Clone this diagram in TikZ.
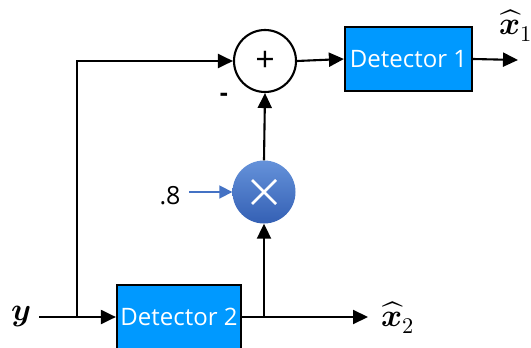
\documentclass[tikz,border=0pt]{standalone}
\usepackage{fontspec}
\usepackage{unicode-math}
\setmainfont{Open Sans}
\setmathfont{Latin Modern Math}
\usetikzlibrary{arrows.meta}
\definecolor{detblue}{HTML}{0099FF}
\definecolor{multop}{HTML}{6592DA}
\definecolor{mulbot}{HTML}{3460B4}
\definecolor{gainblue}{HTML}{4472C4}
\tikzset{
  wire/.style={line width=2.1pt, -{Triangle[length=15pt,width=14pt]}},
  detbox/.style={draw=black, line width=2.2pt, fill=detblue, text=white,
    font=\fontsize{24}{26}\selectfont, inner sep=0pt},
  sumc/.style={circle, draw=black, line width=2.1pt, fill=white, minimum size=62pt,
    inner sep=0pt, font=\fontsize{34}{36}\selectfont},
  mulc/.style={circle, top color=multop, bottom color=mulbot, minimum size=63pt, inner sep=0pt},
  lbl/.style={font=\fontsize{25}{27}\selectfont, inner sep=0pt},
  mlbl/.style={font=\fontsize{32}{34}\selectfont, inner sep=0pt},
}
\begin{document}
\begin{tikzpicture}[x=1pt,y=-1pt]
\clip (0,0) rectangle (531,348);
\fill[white] (0,0) rectangle (531,348);
% nodes
\node[sumc] (sum) at (265,61) {+};
\node[detbox, minimum width=127pt, minimum height=64pt] (d1) at (408.5,59) {Detector 1};
\node[detbox, minimum width=124pt, minimum height=64pt] (d2) at (179,317) {Detector 2};
\node[mulc] (mul) at (264,192) {};
\draw[white, line width=2.6pt] ([shift={(-12pt,-12pt)}]mul.center) -- ([shift={(12pt,12pt)}]mul.center)
  ([shift={(-12pt,12pt)}]mul.center) -- ([shift={(12pt,-12pt)}]mul.center);
\node[mlbl] (y) at (21,316) {$\symbfit{y}$};
\node[mlbl] (x2) at (398,318) {$\widehat{\symbfit{x}}_{2}$};
\node[mlbl] (x1) at (516,26) {$\widehat{\symbfit{x}}_{1}$};
\node[lbl] (g) at (170,196) {.8};
\node[lbl, font=\bfseries\fontsize{25}{27}\selectfont] (minus) at (224,97) {-};
% coordinates
\coordinate (yin) at (39,317);
\coordinate (j1) at (77,317);
\coordinate (j2) at (264,317);
\coordinate (x2end) at (368,317);
\coordinate (x1end) at (518,60);
\coordinate (gin) at (189,192);
% connectors
\draw[wire] (yin) -- (d2.west);
\draw[wire] (j1) |- (sum.west);
\draw[wire] (d2.east) -- (x2end);
\draw[wire] (j2) -- (mul.south);
\draw[wire] (mul.north) -- (sum.south);
\draw[wire] (sum.east) -- (d1.west);
\draw[wire] (d1.east) -- (x1end);
\draw[gainblue, line width=1.8pt, -{Triangle[length=13pt,width=13pt]}] (gin) -- (mul.west);
\end{tikzpicture}
\end{document}
